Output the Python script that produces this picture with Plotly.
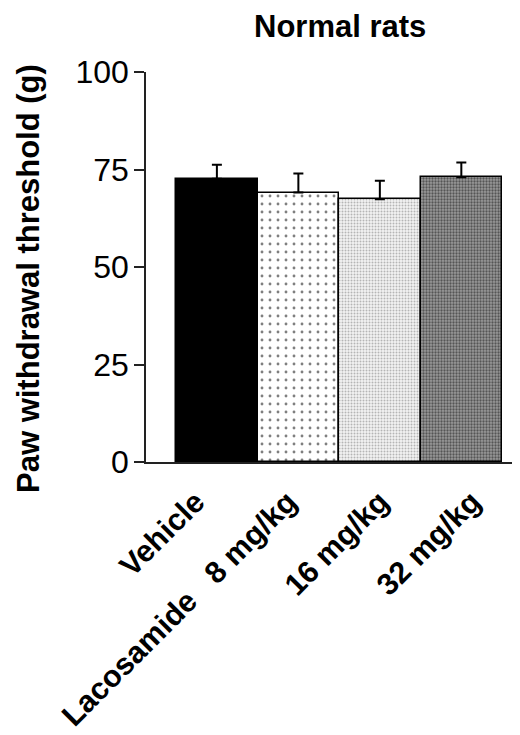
import plotly.graph_objects as go

categories = ["Vehicle", "Lacosamide\u00a0\u00a0\u00a08 mg/kg", "16 mg/kg", "32 mg/kg"]
means = [72.6, 69.1, 67.4, 73.0]
errors = [3.6, 4.9, 4.7, 3.8]
y_ticks = [0, 25, 50, 75, 100]

# page has an 8px body margin, so figure coordinates are screen - 8
W, H = 520, 735
L, R, T, B = 138, 8, 64, 281
pw, ph = W - L - R, H - T - B

patterns = [
    dict(shape="", bgcolor="black"),
    dict(shape=".", size=8, solidity=0.1, fgcolor="black", bgcolor="white", fillmode="overlay"),
    dict(shape=".", size=3, solidity=0.35, fgcolor="#777777", bgcolor="#f2f2f2", fillmode="overlay"),
    dict(shape=".", size=3, solidity=0.45, fgcolor="#111111", bgcolor="#999999", fillmode="overlay"),
]
colors = ["black", "white", "#f2f2f2", "#999999"]

fig = go.Figure()
for i, c in enumerate(categories):
    fig.add_trace(go.Bar(
        x=[i], y=[means[i]],
        marker=dict(color=colors[i], line=dict(color="black", width=1.5), pattern=patterns[i]),
        error_y=dict(type="data", symmetric=False, array=[errors[i]], arrayminus=[0],
                     color="black", thickness=2, width=5),
        width=1.0, showlegend=False,
    ))

# label anchor nudges (layout only)
label_shift = [-0.26, -0.13, 0.0, 0.13]

font = "Liberation Sans, Arial, sans-serif"
fig.update_layout(
    width=W, height=H,
    margin=dict(l=L, r=R, t=T, b=B, autoexpand=False),
    paper_bgcolor="white", plot_bgcolor="white",
    bargap=0,
    font=dict(family=font, size=30, color="black"),
    xaxis=dict(
        range=[-0.87, 3.72], tickmode="array",
        tickvals=[i + label_shift[i] for i in range(len(categories))],
        ticktext=categories, tickangle=-45, showline=True, linecolor="#222222", linewidth=1.5,
        ticks="", showgrid=False, zeroline=False, ticklabelstandoff=8,
        tickfont=dict(family=font, size=30.5, color="black", weight="bold"),
    ),
    yaxis=dict(
        range=[0, 100], tickmode="array", tickvals=y_ticks, ticktext=[str(v) for v in y_ticks],
        showline=True, linecolor="#222222", linewidth=1.5, ticks="outside", ticklen=10,
        tickwidth=1.5, tickcolor="#222222", showgrid=False, zeroline=False,
        tickfont=dict(family=font, size=32, color="black"), ticklabelstandoff=-1,
    ),
    annotations=[
        dict(text="<b>Normal rats</b>", xref="paper", yref="paper",
             x=(340 - 8 - L) / pw, y=(454 - 19) / ph, yanchor="middle", xanchor="center",
             showarrow=False, font=dict(family=font, size=31, color="black")),
        dict(text="<b>Paw withdrawal threshold (g)</b>", xref="paper", yref="paper",
             x=(28 - 8 - L) / pw, y=(454 - 271) / ph, xanchor="center", yanchor="middle",
             textangle=-90, showarrow=False, font=dict(family=font, size=31, color="black")),
    ],
)

fig.write_html("out.html")
